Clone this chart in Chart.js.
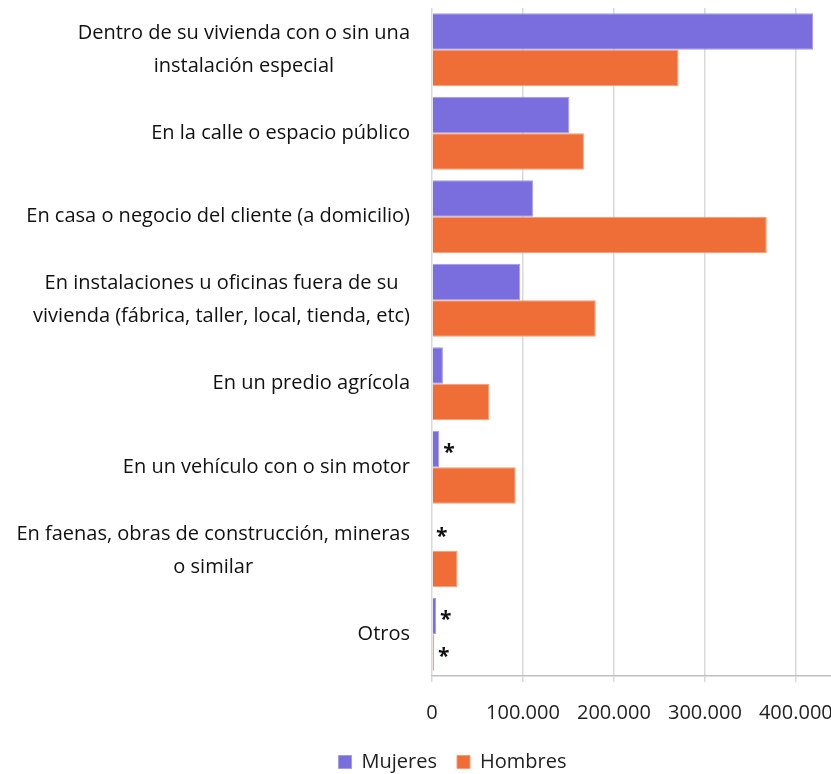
<!DOCTYPE html>
<html>
<head>
<meta charset="utf-8">
<script src="https://cdn.jsdelivr.net/npm/chart.js@4.4.1/dist/chart.umd.min.js"></script>
<style>
  html, body { margin: 0; padding: 0; background: #fff; overflow: hidden; }
  #wrap { width: 908px; height: 782px; }
</style>
</head>
<body>
<div id="wrap"><canvas id="lugarChart"></canvas></div>
<script>
"use strict";

const categories = [
  ["Dentro de su vivienda con o sin una", "instalación especial"],
  "En la calle o espacio público",
  "En casa o negocio del cliente (a domicilio)",
  ["En instalaciones u oficinas fuera de su", "vivienda (fábrica, taller, local, tienda, etc)"],
  "En un predio agrícola",
  "En un vehículo con o sin motor",
  ["En faenas, obras de construcción, mineras", "o similar"],
  "Otros",
];
const mujeres = [419000, 151000, 111000, 97000, 12000, 8000, 0, 4500];
const hombres = [271000, 167000, 368000, 180000, 63000, 92000, 28000, 2200];
const mujeresAsterisco = [false, false, false, false, false, true, true, true];
const hombresAsterisco = [false, false, false, false, false, false, false, true];
const xTicks = [0, 100000, 200000, 300000, 400000];

const FONT = '"Open Sans", "DejaVu Sans", sans-serif';

function formatMiles(v) {
  return String(v).replace(/\B(?=(\d{3})+(?!\d))/g, ".");
}

// etiquetas de categoria: lineas centradas entre si, bloque alineado a la derecha
const categoryLabels = {
  id: "categoryLabels",
  afterDraw(chart) {
    const { ctx } = chart;
    const y = chart.scales.y;
    ctx.save();
    ctx.font = "20px " + FONT;
    ctx.fillStyle = "#111";
    ctx.textAlign = "center";
    ctx.textBaseline = "middle";
    const lineH = 33;
    const right = y.right - 22;
    categories.forEach((label, i) => {
      const lines = Array.isArray(label) ? label : [label];
      const w = Math.max(...lines.map((l) => ctx.measureText(l).width));
      const cx = right - w / 2;
      const cy = y.getPixelForValue(i);
      lines.forEach((line, k) => {
        ctx.fillText(line, cx, cy + (k - (lines.length - 1) / 2) * lineH);
      });
    });
    ctx.restore();
  },
};

// asteriscos junto a las barras
const asteriscos = {
  id: "asteriscos",
  afterDatasetsDraw(chart) {
    const { ctx } = chart;
    ctx.save();
    ctx.font = "bold 21px " + FONT;
    ctx.fillStyle = "#111";
    ctx.textAlign = "left";
    ctx.textBaseline = "alphabetic";
    const m = ctx.measureText("*");
    const shift = (m.actualBoundingBoxAscent - m.actualBoundingBoxDescent) / 2;
    [mujeresAsterisco, hombresAsterisco].forEach((flags, d) => {
      const bars = chart.getDatasetMeta(d).data;
      flags.forEach((on, i) => {
        if (!on) return;
        const bar = bars[i];
        ctx.fillText("*", bar.x + 4, bar.y + shift);
      });
    });
    ctx.restore();
  },
};

const ctx = document.getElementById("lugarChart").getContext("2d");

new Chart(ctx, {
  type: "bar",
  data: {
    labels: categories,
    datasets: [
      {
        label: "Mujeres",
        data: mujeres,
        backgroundColor: "#7a6ede",
        borderColor: "#a39ae8",
        borderWidth: 1,
        categoryPercentage: 0.875,
        barPercentage: 1,
      },
      {
        label: "Hombres",
        data: hombres,
        backgroundColor: "#ef6d37",
        borderColor: "#f49a74",
        borderWidth: 1,
        categoryPercentage: 0.875,
        barPercentage: 1,
      },
    ],
  },
  options: {
    indexAxis: "y",
    responsive: true,
    maintainAspectRatio: false,
    animation: false,
    layout: { padding: { top: 8, right: 3, left: 0, bottom: 0 } },
    scales: {
      x: {
        min: 0,
        max: 520000,
        afterBuildTicks: (scale) => {
          scale.ticks = xTicks.map((v) => ({ value: v }));
        },
        afterFit: (scale) => {
          scale.height = 56;
        },
        grid: { color: "#d9d9d9", lineWidth: 1.5, tickLength: 6 },
        border: { color: "#bfbfbf", width: 1.5 },
        ticks: {
          font: { family: FONT, size: 20 },
          color: "#222",
          padding: 19,
          callback: (v) => formatMiles(v),
        },
      },
      y: {
        grid: { display: false },
        border: { display: false },
        ticks: { display: false },
        afterFit: (scale) => {
          scale.width = 432;
        },
      },
    },
    plugins: {
      legend: {
        position: "bottom",
        labels: {
          boxWidth: 13,
          boxHeight: 13,
          padding: 20,
          color: "#222",
          font: { family: FONT, size: 20 },
        },
      },
      tooltip: { enabled: false },
    },
  },
  plugins: [categoryLabels, asteriscos],
});
</script>
</body>
</html>
